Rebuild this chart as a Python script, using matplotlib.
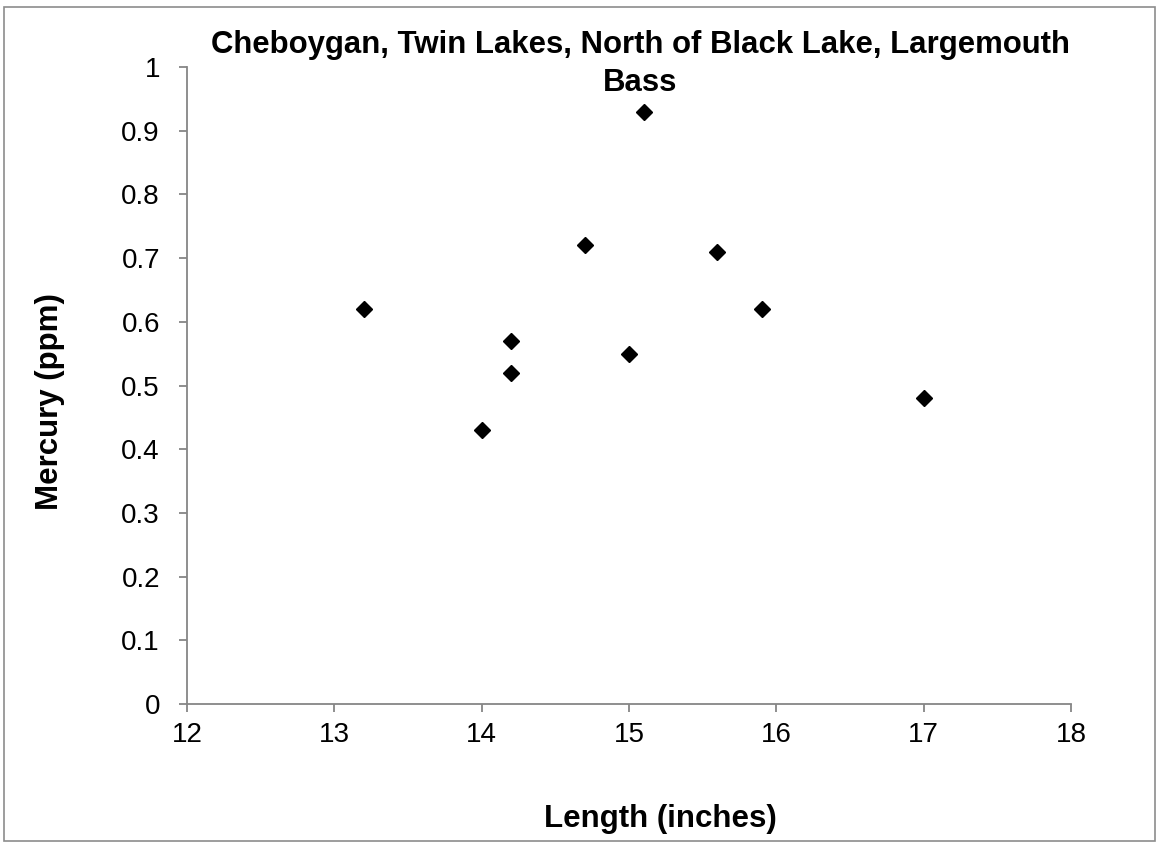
import matplotlib
matplotlib.use("Agg")
from matplotlib import pyplot as plt

plt.rcParams["font.family"] = ["Liberation Sans", "DejaVu Sans"]

# fish length (inches) vs mercury (ppm)
length_in = [13.2, 14.0, 14.2, 14.2, 14.7, 15.0, 15.1, 15.6, 15.9, 17.0]
mercury_ppm = [0.62, 0.43, 0.57, 0.52, 0.72, 0.55, 0.93, 0.71, 0.62, 0.48]
x_ticks = [12, 13, 14, 15, 16, 17, 18]
y_ticks = [0, 0.1, 0.2, 0.3, 0.4, 0.5, 0.6, 0.7, 0.8, 0.9, 1]
y_tick_labels = ["0", "0.1", "0.2", "0.3", "0.4", "0.5", "0.6", "0.7", "0.8", "0.9", "1"]

W, H = 1156, 842
fig = plt.figure(figsize=(W / 100, H / 100), dpi=100)
ax = fig.add_axes([187 / W, 1 - 704 / H, (1071 - 187) / W, (704 - 67) / H])

ax.plot(length_in, mercury_ppm, linestyle="none", marker="D", markersize=8.5,
        color="black", clip_on=False)

ax.set_xlim(12, 18)
ax.set_ylim(0, 1)
ax.set_xticks(x_ticks)
ax.set_yticks(y_ticks)
ax.set_yticklabels(y_tick_labels)

axis_grey = "#868686"
for side in ["top", "right"]:
    ax.spines[side].set_visible(False)
for side in ["left", "bottom"]:
    ax.spines[side].set_color(axis_grey)
    ax.spines[side].set_linewidth(1.3)
ax.tick_params(axis="both", direction="out", length=6, width=1.3, color=axis_grey,
               labelsize=20, labelcolor="black")
ax.tick_params(axis="x", pad=7)
ax.tick_params(axis="y", pad=13.5)

fig.text(640 / W, 1 - 64 / H, "Cheboygan, Twin Lakes, North of Black Lake, Largemouth\nBass",
         ha="center", va="center", fontsize=22.4, fontweight="bold", linespacing=1.32)
fig.text(660 / W, 1 - 819 / H, "Length (inches)", ha="center", va="center",
         fontsize=22.5, fontweight="bold")
fig.text(50 / W, 1 - 402 / H, "Mercury (ppm)", ha="center", va="center",
         rotation=90, fontsize=22.5, fontweight="bold")

# thin frame round the whole chart
frame = plt.Rectangle((3.5 / W, 1 / H), 1151.5 / W, 1 - 7.5 / H, transform=fig.transFigure,
                      fill=False, edgecolor="#8c8c8c", linewidth=1.2)
fig.patches.append(frame)

fig.savefig("out.png", dpi=100)
